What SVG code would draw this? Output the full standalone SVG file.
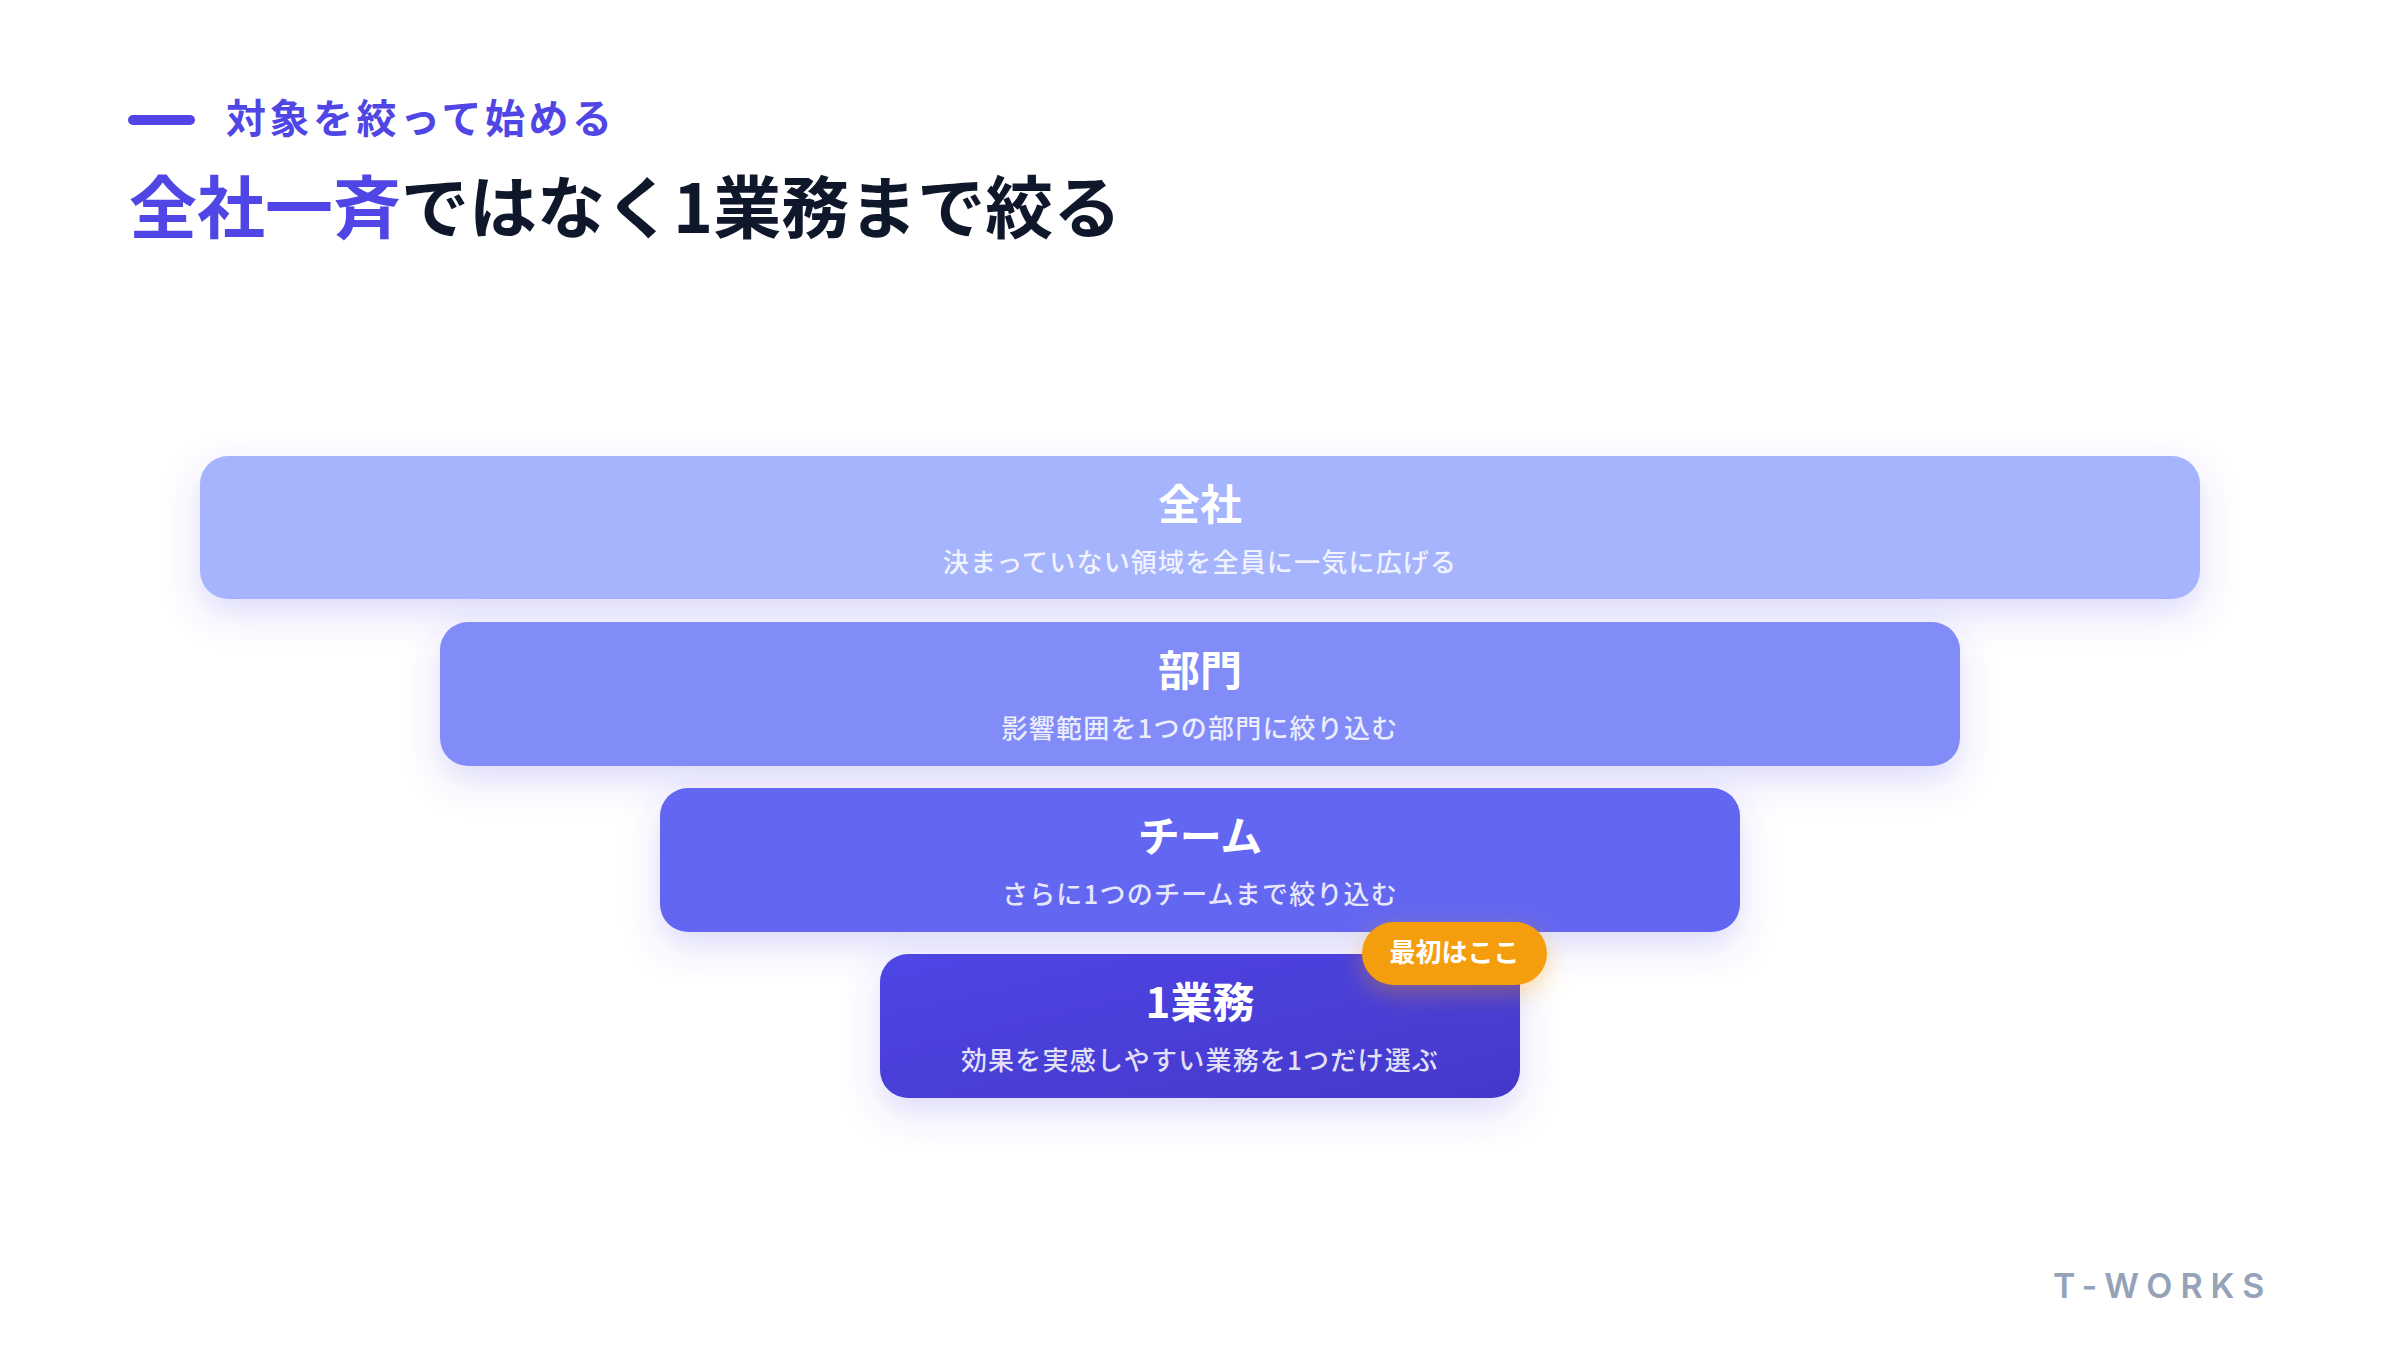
<svg xmlns="http://www.w3.org/2000/svg" width="2400" height="1350" viewBox="0 0 2400 1350">
  <defs>
    <filter id="shadow" x="-20%" y="-50%" width="140%" height="220%">
      <feDropShadow dx="0" dy="14" stdDeviation="18" flood-color="#4F46E5" flood-opacity="0.2"/>
    </filter>
    <filter id="glow" x="-50%" y="-80%" width="200%" height="260%">
      <feDropShadow dx="0" dy="8" stdDeviation="12" flood-color="#F59E0B" flood-opacity="0.35"/>
    </filter>
    <linearGradient id="g4" x1="0" y1="0" x2="1" y2="1">
      <stop offset="0" stop-color="#4F46E5"/>
      <stop offset="1" stop-color="#4338CA"/>
    </linearGradient>
  </defs>
  <style>
    .jp { font-family: "Noto Sans CJK JP", "Noto Sans", sans-serif; }
    .ttl { font-size: 42px; font-weight: 700; fill: #FFFFFF; text-anchor: middle; }
    .sub { font-size: 26px; font-weight: 500; fill: #FFFFFF; fill-opacity: 0.85; text-anchor: middle; letter-spacing: 1.2px; }
  </style>
  <rect width="2400" height="1350" fill="#FFFFFF"/>

  <g id="header">
    <rect x="128" y="115" width="67" height="10" rx="5" fill="#4F46E5"/>
    <text class="jp" x="226" y="133" font-size="40" font-weight="700" fill="#4F46E5" letter-spacing="3.5">対象を絞って始める</text>
    <text class="jp" x="129" y="233" font-size="68" font-weight="700" fill="#0F172A"><tspan fill="#4F46E5">全社一斉</tspan>ではなく1業務まで絞る</text>
  </g>

  <g id="connectors"></g>

  <g id="node-company">
    <rect x="200" y="456" width="2000" height="143" rx="28" fill="#A5B4FC" filter="url(#shadow)"/>
    <text class="jp ttl" x="1200" y="520">全社</text>
    <text class="jp sub" x="1200" y="572">決まっていない領域を全員に一気に広げる</text>
  </g>

  <g id="node-department">
    <rect x="440" y="622" width="1520" height="144" rx="28" fill="#818CF8" filter="url(#shadow)"/>
    <text class="jp ttl" x="1200" y="686">部門</text>
    <text class="jp sub" x="1200" y="738">影響範囲を1つの部門に絞り込む</text>
  </g>

  <g id="node-team">
    <rect x="660" y="788" width="1080" height="144" rx="28" fill="#6366F1" filter="url(#shadow)"/>
    <text class="jp ttl" x="1200" y="852">チーム</text>
    <text class="jp sub" x="1200" y="904">さらに1つのチームまで絞り込む</text>
  </g>

  <g id="node-task">
    <rect x="880" y="954" width="640" height="144" rx="28" fill="url(#g4)" filter="url(#shadow)"/>
    <text class="jp ttl" x="1200" y="1018">1業務</text>
    <text class="jp sub" x="1200" y="1070">効果を実感しやすい業務を1つだけ選ぶ</text>
  </g>

  <g id="badge">
    <rect x="1362" y="922" width="185" height="63" rx="31.5" fill="#F59E0B" filter="url(#glow)"/>
    <text class="jp" x="1454.5" y="962" font-size="26" font-weight="700" fill="#FFFFFF" text-anchor="middle">最初はここ</text>
  </g>

  <g id="footer">
    <text x="2053" y="1298" font-family="Inter, 'Liberation Sans', sans-serif" font-size="34" font-weight="600" fill="#94A3B8" letter-spacing="8">T-WORKS</text>
  </g>
</svg>
